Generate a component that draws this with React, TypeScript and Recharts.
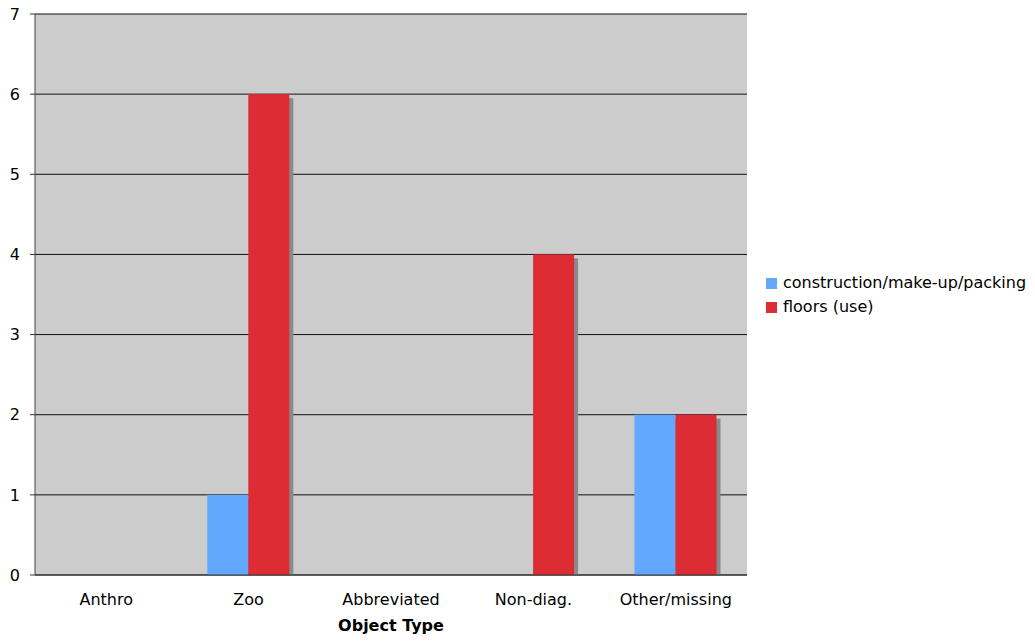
import React from 'react';
import { BarChart, Bar, XAxis, YAxis, CartesianGrid } from 'recharts';

const categories = ['Anthro', 'Zoo', 'Abbreviated', 'Non-diag.', 'Other/missing'];
const construction = [0, 1, 0, 0, 2];
const floors = [0, 6, 0, 4, 2];
const yTicks = [0, 1, 2, 3, 4, 5, 6, 7];

const series = [
  { key: 'construction', name: 'construction/make-up/packing', color: '#62a8ff' },
  { key: 'floors', name: 'floors (use)', color: '#dd2c33' },
];

const data = categories.map((name, i) => ({
  name,
  construction: construction[i],
  floors: floors[i],
}));

// category boundaries, used only for the tick marks under the x axis
const edgeTicks = categories.map((_, i) => i).concat(categories.length);

const FONT = '"DejaVu Sans", Verdana, sans-serif';

// bar with a flat grey drop shadow offset down/right
const ShadowBar = (props: any) => {
  const { x, y, width, height, fill } = props;
  if (!height || height <= 0) return null;
  return (
    <g>
      <rect x={x + 4} y={y + 4} width={width} height={height - 4} fill="#8a8a8a" />
      <rect x={x} y={y} width={width} height={height} fill={fill} />
    </g>
  );
};

const LegendBox = () => (
  <div
    style={{
      position: 'absolute',
      left: 766,
      top: 271,
      fontFamily: FONT,
      fontSize: 16,
      color: '#000',
      lineHeight: '24px',
    }}
  >
    {series.map((s) => (
      <div key={s.key} style={{ display: 'flex', alignItems: 'center', whiteSpace: 'nowrap' }}>
        <span style={{ width: 11, height: 11, background: s.color, marginRight: 6, display: 'inline-block' }} />
        {s.name}
      </div>
    ))}
  </div>
);

export default function App() {
  return (
    <div style={{ position: 'absolute', left: 0, top: 0, width: 1035, height: 641, background: '#fff' }}>
      <BarChart
        width={1035}
        height={641}
        data={data}
        margin={{ top: 14, right: 288, bottom: 0, left: 0 }}
        barCategoryGap="21%"
        barGap={0}
        style={{ fontFamily: FONT }}
      >
        <CartesianGrid vertical={false} fill="#cccccc" stroke="#111" strokeOpacity={1} />
        <XAxis
          xAxisId="edges"
          type="number"
          domain={[0, categories.length]}
          ticks={edgeTicks}
          tick={false}
          tickSize={5}
          tickLine={{ stroke: '#333' }}
          axisLine={false}
          height={0}
        />
        <XAxis
          dataKey="name"
          tickLine={false}
          tickSize={0}
          axisLine={{ stroke: '#333' }}
          tick={{ fill: '#000', fontSize: 16 }}
          tickMargin={19}
          height={66}
          interval={0}
          label={{ value: 'Object Type', position: 'insideBottom', offset: 10, fill: '#000', fontSize: 16, fontWeight: 'bold' }}
        />
        <YAxis
          domain={[0, 7]}
          ticks={yTicks}
          width={35}
          tickSize={5}
          tickMargin={10}
          tickLine={{ stroke: '#333' }}
          axisLine={{ stroke: '#444' }}
          tick={{ fill: '#000', fontSize: 16 }}
        />
        {series.map((s) => (
          <Bar
            key={s.key}
            dataKey={s.key}
            name={s.name}
            fill={s.color}
            shape={<ShadowBar />}
            isAnimationActive={false}
          />
        ))}
      </BarChart>
      <LegendBox />
    </div>
  );
}
